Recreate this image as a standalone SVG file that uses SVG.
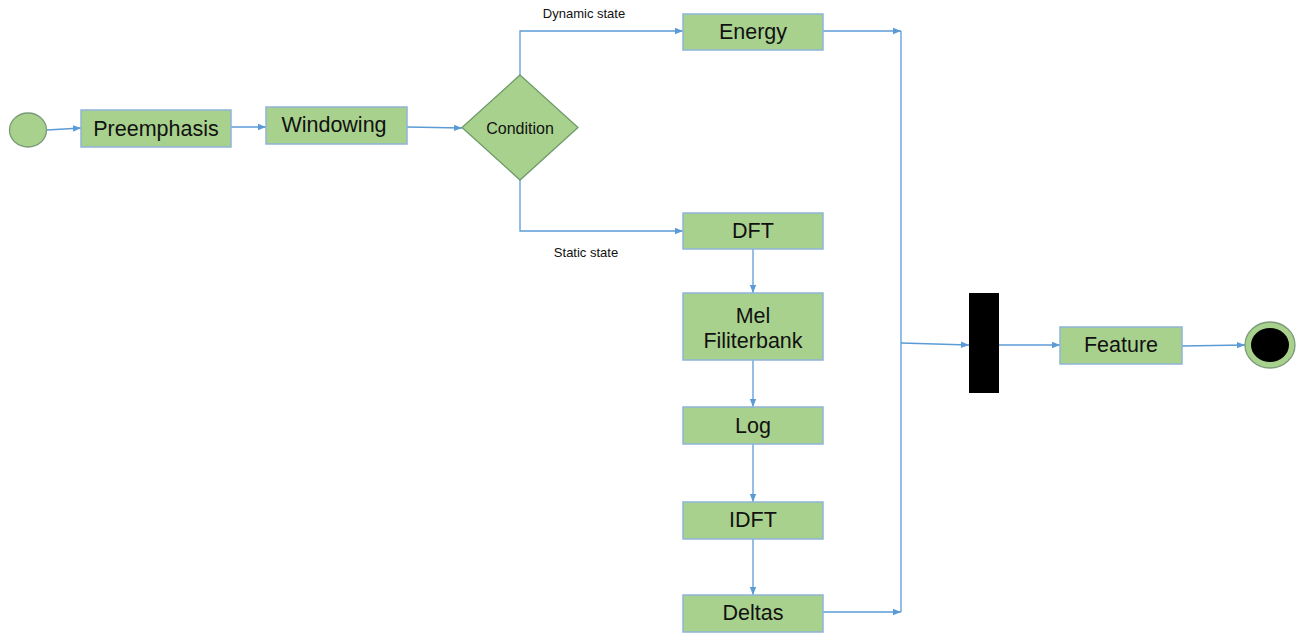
<svg xmlns="http://www.w3.org/2000/svg" width="1296" height="634" viewBox="0 0 1296 634">
<style>
.box{fill:#a9d18e;stroke:#8fb4d8;stroke-width:1.5}
.t{font-family:"Liberation Sans",Arial,sans-serif;font-size:21.5px;fill:#111;text-anchor:middle;dominant-baseline:central}
.lbl{font-family:"Liberation Sans",Arial,sans-serif;font-size:13px;fill:#111;text-anchor:middle}
.c{fill:none;stroke:#5b9bd5;stroke-width:1.3}
</style>
<defs>
<marker id="ah" viewBox="0 0 10 10" refX="10" refY="5" markerWidth="8" markerHeight="8" markerUnits="userSpaceOnUse" orient="auto">
<path d="M0,1 L10,5 L0,9 z" fill="#5b9bd5"/>
</marker>
</defs>
<rect width="1296" height="634" fill="#fff"/>
<g id="connectors">
<path class="c" d="M47,130 L81,128" marker-end="url(#ah)"/>
<path class="c" d="M231,127 L266,127" marker-end="url(#ah)"/>
<path class="c" d="M407,127 L462,128" marker-end="url(#ah)"/>
<path class="c" d="M520,75 L520,31 L683,31" marker-end="url(#ah)"/>
<path class="c" d="M520,180 L520,231 L683,231" marker-end="url(#ah)"/>
<path class="c" d="M823,31 L901,31" marker-end="url(#ah)"/>
<path class="c" d="M823,612 L901,612" marker-end="url(#ah)"/>
<path class="c" d="M901,31 L901,612"/>
<path class="c" d="M901,343 L969,345" marker-end="url(#ah)"/>
<path class="c" d="M999,345 L1060,345" marker-end="url(#ah)"/>
<path class="c" d="M1182,346 L1245,345" marker-end="url(#ah)"/>
<path class="c" d="M753,249 L753,293" marker-end="url(#ah)"/>
<path class="c" d="M753,360 L753,407" marker-end="url(#ah)"/>
<path class="c" d="M753,444 L753,502" marker-end="url(#ah)"/>
<path class="c" d="M753,539 L753,595" marker-end="url(#ah)"/>
<text class="lbl" x="584" y="18">Dynamic state</text>
<text class="lbl" x="586" y="257">Static  state</text>
</g>
<g id="start"><ellipse cx="28" cy="130" rx="18.5" ry="17" fill="#a9d18e" stroke="#7a9a78" stroke-width="1.3"/></g>
<g id="preemphasis"><rect class="box" x="81" y="110" width="150" height="37"/><text class="t" x="156" y="129">Preemphasis</text></g>
<g id="windowing"><rect class="box" x="266" y="107" width="141" height="37"/><text class="t" x="334" y="125">Windowing</text></g>
<g id="condition"><polygon points="520,75 578,127.5 520,180 462,127.5" fill="#a9d18e" stroke="#6f9a6a" stroke-width="1.3"/><text class="t" x="520" y="128" style="font-size:16px">Condition</text></g>
<g id="energy"><rect class="box" x="683" y="14" width="140" height="36"/><text class="t" x="753" y="32">Energy</text></g>
<g id="dft"><rect class="box" x="683" y="213" width="140" height="36"/><text class="t" x="753" y="231">DFT</text></g>
<g id="mel"><rect class="box" x="683" y="293" width="140" height="67"/><text class="t" x="753" y="316">Mel</text><text class="t" x="753" y="341">Filiterbank</text></g>
<g id="log"><rect class="box" x="683" y="407" width="140" height="37"/><text class="t" x="753" y="426">Log</text></g>
<g id="idft"><rect class="box" x="683" y="502" width="140" height="37"/><text class="t" x="753" y="520">IDFT</text></g>
<g id="deltas"><rect class="box" x="683" y="595" width="140" height="37"/><text class="t" x="753" y="613">Deltas</text></g>
<g id="join"><rect x="969" y="293" width="30" height="100" fill="#000"/></g>
<g id="feature"><rect class="box" x="1060" y="327" width="122" height="37"/><text class="t" x="1121" y="345">Feature</text></g>
<g id="end"><ellipse cx="1270" cy="345" rx="25" ry="23" fill="#a9d18e" stroke="#7a9a78" stroke-width="1.3"/><ellipse cx="1270" cy="345" rx="19" ry="17" fill="#000"/></g>
</svg>
